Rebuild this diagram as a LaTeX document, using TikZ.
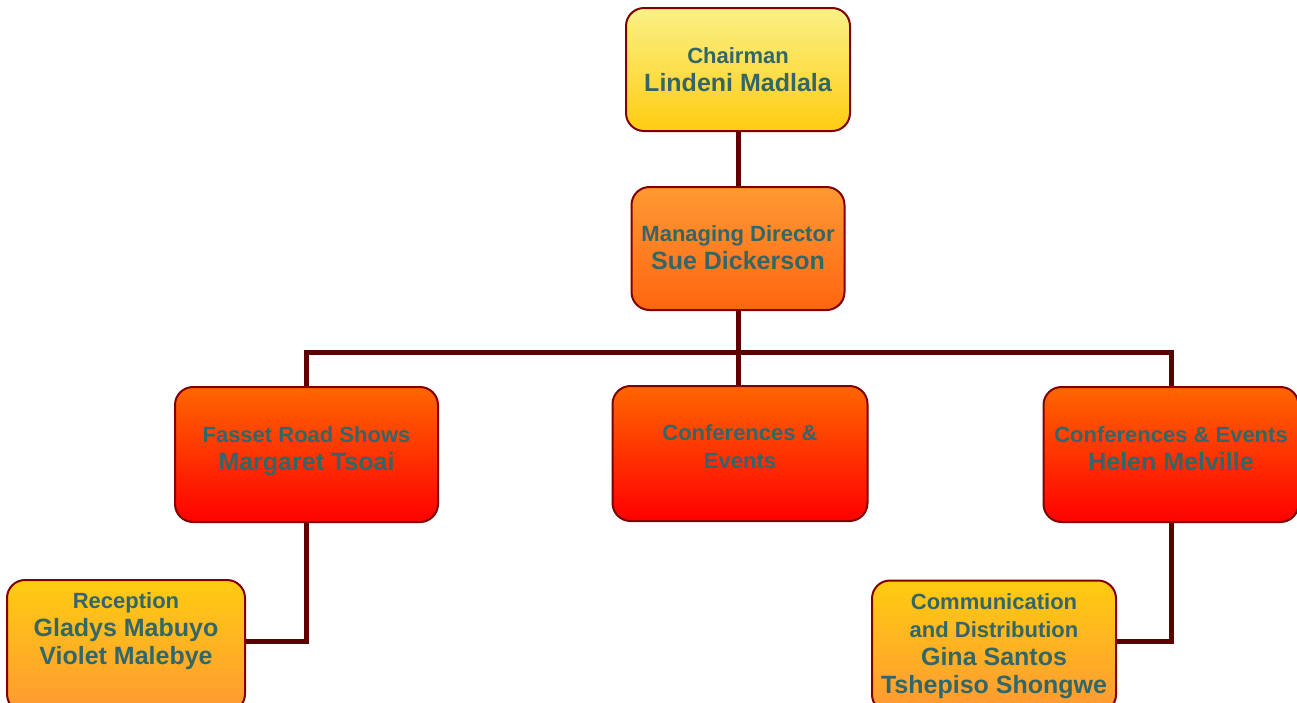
\documentclass[tikz,border=0pt]{standalone}
\usepackage{fontspec}
\setmainfont{Liberation Sans}
\usetikzlibrary{positioning}

\definecolor{txtteal}{HTML}{336666}
\definecolor{boxedge}{HTML}{800000}
\definecolor{wirered}{HTML}{5C0000}
\definecolor{paleyel}{HTML}{FAF187}
\definecolor{gold}{HTML}{FFCC11}
\definecolor{lightorg}{HTML}{FF9933}
\definecolor{deeporg}{HTML}{FF6611}
\definecolor{darkorg}{HTML}{FF6600}
\definecolor{hotred}{HTML}{FF0000}

\newcommand{\pname}[1]{{\fontsize{25}{28.5}\selectfont #1}}
\newcommand{\sink}[1]{\rule[-#1]{0pt}{0pt}}

\tikzset{
  box/.style={draw=boxedge,line width=2pt,rounded corners=18pt,align=center,
    text=txtteal,font=\bfseries\fontsize{22}{28}\selectfont,inner sep=2pt},
  chairbox/.style={box,top color=paleyel,bottom color=gold},
  mdbox/.style={box,top color=lightorg,bottom color=deeporg},
  deptbox/.style={box,top color=darkorg,bottom color=hotred,minimum height=135pt},
  staffbox/.style={box,top color=gold,bottom color=lightorg,minimum height=132pt},
  wire/.style={draw=wirered,line width=5pt}
}

\begin{document}
\begin{tikzpicture}[x=1pt,y=1pt]
\useasboundingbox (0,0) rectangle (1297,-702);

\node[chairbox,minimum width=224pt,minimum height=123pt] (chair) at (738,-69.5)
{Chairman\\\pname{Lindeni Madlala}};
\node[mdbox,minimum width=213pt,minimum height=123pt] (md) [below=54pt of chair]
{Managing Director\\\pname{Sue Dickerson}\sink{2pt}};
\node[deptbox,minimum width=263pt] (fasset) at (306.5,-454.5)
{Fasset Road Shows\\\pname{Margaret Tsoai}\sink{12pt}};
\node[deptbox,minimum width=255pt] (conf) at (740,-453.5)
{Conferences \&\\Events\sink{14pt}};
\node[deptbox,minimum width=255pt] (helen) at (1171,-454.5)
{Conferences \& Events\\\pname{Helen Melville}\sink{11pt}};
\node[staffbox,minimum width=238pt] (recep) at (126,-646)
{Reception\\\pname{Gladys Mabuyo}\\\pname{Violet Malebye}\sink{34pt}};
\node[staffbox,minimum width=244pt] (comm) at (994,-646.5)
{Communication\\and Distribution\\\pname{Gina Santos}\\\pname{Tshepiso Shongwe}\sink{6pt}};

\coordinate (bus) at (738,-352);

\draw[wire] (chair.south) -- (md.north);
\draw[wire] (md.south) -- (bus) -- (bus |- conf.north);
\draw[wire] (fasset.north) |- (bus) -| (helen.north);
\draw[wire] (fasset.south) |- ([yshift=5pt]recep.east);
\draw[wire] (helen.south) |- ([yshift=5pt]comm.east);
\end{tikzpicture}
\end{document}
